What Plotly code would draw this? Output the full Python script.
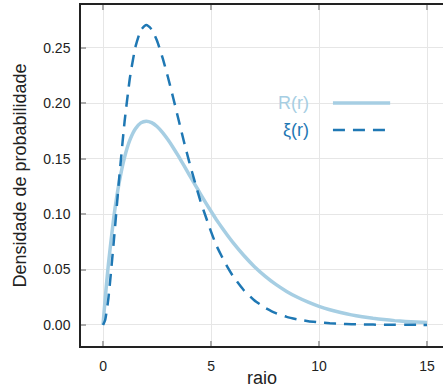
import plotly.graph_objects as go

# radius grid
raio = [0, 0.1, 0.25, 0.5, 0.75, 1, 1.25, 1.5, 1.75, 2, 2.25, 2.5, 2.75, 3, 3.25,
        3.5, 3.75, 4, 4.25, 4.5, 4.75, 5, 5.25, 5.5, 5.75, 6, 6.5, 7, 7.5, 8,
        8.5, 9, 9.5, 10, 10.5, 11, 11.5, 12, 12.5, 13, 13.5, 14, 14.5, 15]

# R(r) density
dens_R = [0.0, 0.0238, 0.0552, 0.0974, 0.1289, 0.1516, 0.1673, 0.1771, 0.1824,
          0.1839, 0.1826, 0.1791, 0.1738, 0.1673, 0.1600, 0.1521, 0.1438, 0.1353,
          0.1269, 0.1186, 0.1104, 0.1026, 0.0950, 0.0879, 0.0811, 0.0747, 0.0631,
          0.0528, 0.0441, 0.0366, 0.0303, 0.0250, 0.0206, 0.0168, 0.0137, 0.0112,
          0.0091, 0.0074, 0.0060, 0.0049, 0.0039, 0.0032, 0.0026, 0.0021]

# xi(r) density
dens_xi = [0.0, 0.0045, 0.0243, 0.0758, 0.1329, 0.1839, 0.2238, 0.2510, 0.2661,
           0.2707, 0.2668, 0.2566, 0.2416, 0.2240, 0.2049, 0.1850, 0.1652, 0.1465,
           0.1291, 0.1124, 0.0981, 0.0842, 0.0717, 0.0618, 0.0526, 0.0446, 0.0318,
           0.0223, 0.0156, 0.0107, 0.0073, 0.0050, 0.0034, 0.0023, 0.0015, 0.0010,
           0.0007, 0.0004, 0.0003, 0.0002, 0.0001, 0.0001, 0.0001, 0.0000]

x_ticks = [0, 5, 10, 15]
y_ticks = [0.00, 0.05, 0.10, 0.15, 0.20, 0.25]

light = "#a6cee3"
dark = "#1f78b4"
font = "Liberation Sans, Arial, sans-serif"

fig = go.Figure()
fig.add_trace(go.Scatter(x=raio, y=dens_R, mode="lines", name="R(r)",
                         line=dict(color=light, width=3.5, shape="spline", smoothing=0.5)))
fig.add_trace(go.Scatter(x=raio, y=dens_xi, mode="lines", name="ξ(r)",
                         line=dict(color=dark, width=2.5, dash="12px,8px",
                                   shape="spline", smoothing=0.5)))

# legend: coloured label followed by a line sample
legend_rows = [("R(r)", light, "solid", 3.5, 0.7126), ("ξ(r)", dark, "12px,8px", 2.5, 0.6334)]
for label, col, dash, w, yy in legend_rows:
    fig.add_annotation(x=0.634, y=yy, xref="paper", yref="paper", text=label,
                       showarrow=False, xanchor="right", yanchor="middle",
                       font=dict(family=font, size=18, color=col))
    fig.add_shape(type="line", xref="paper", yref="paper", x0=0.696, x1=0.854,
                  y0=yy, y1=yy, line=dict(color=col, width=w, dash=dash))

axis_common = dict(showgrid=True, gridcolor="#e6e6e6", gridwidth=1,
                   showline=True, linecolor="#222222", linewidth=1.5,
                   ticks="inside", ticklen=5, tickcolor="#aaaaaa", tickwidth=1.5,
                   zeroline=False, tickfont=dict(family=font, size=14, color="#222222"))

fig.update_layout(
    width=443, height=388,
    margin=dict(l=81, r=0, t=5, b=42),
    plot_bgcolor="white", paper_bgcolor="white",
    showlegend=False,
    xaxis=dict(range=[-1.02, 15.74], tickvals=x_ticks, mirror="ticks",
               ticklabelstandoff=6,
               title=dict(text="raio", font=dict(family=font, size=18, color="#222222"),
                          standoff=1),
               **axis_common),
    yaxis=dict(range=[-0.019, 0.2888], tickvals=y_ticks, tickformat=".2f",
               ticklabelstandoff=6,
               title=dict(text="Densidade de probabilidade",
                          font=dict(family=font, size=18, color="#222222"), standoff=12),
               **axis_common),
)

fig.write_html("out.html")
